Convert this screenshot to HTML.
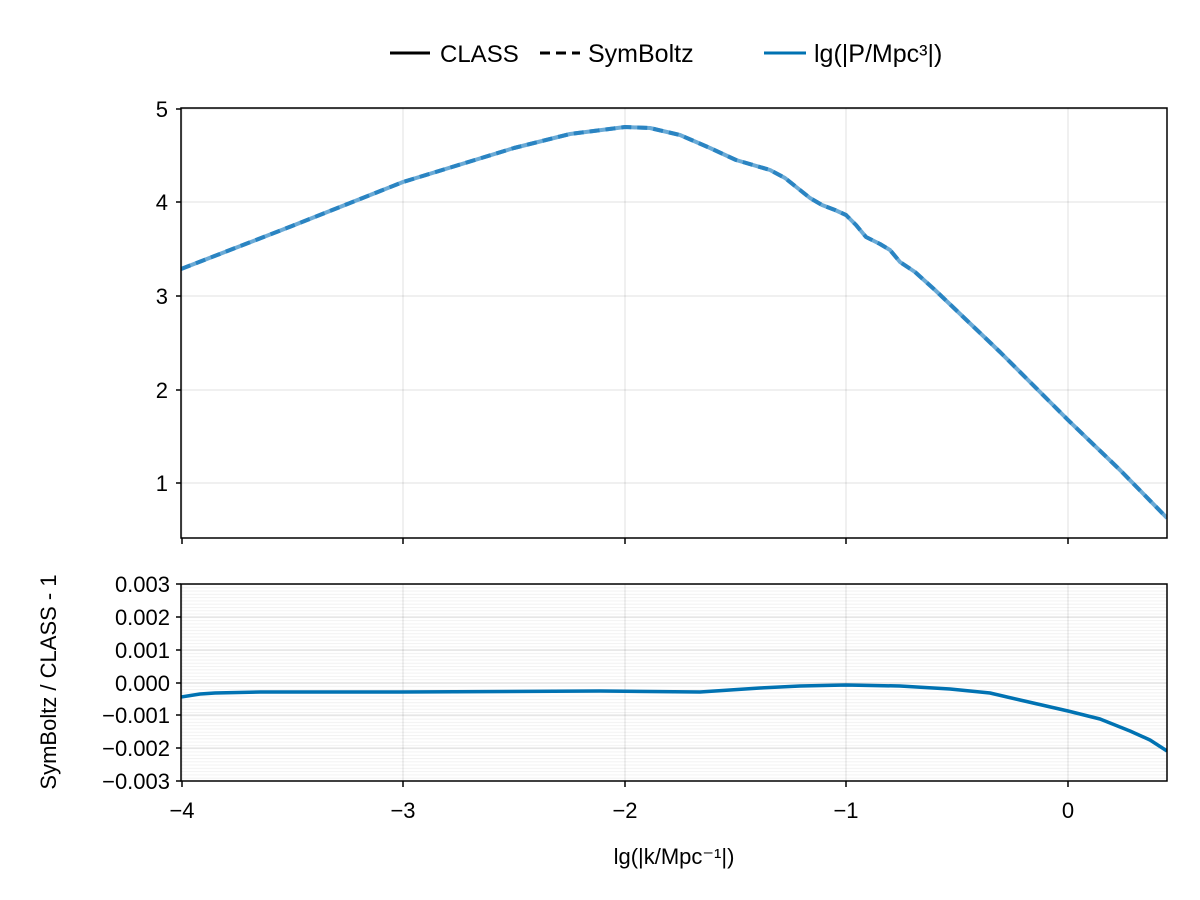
<!DOCTYPE html>
<html><head><style>body{margin:0;background:#fff}svg{display:block}text{font-family:"Liberation Sans",sans-serif;fill:#000}</style></head>
<body>
<svg width="1200" height="900" viewBox="0 0 1200 900">
<defs>
<pattern id="mg" x="0" y="584" width="10" height="3.283" patternUnits="userSpaceOnUse">
<line x1="0" y1="0.5" x2="10" y2="0.5" stroke="#000" stroke-opacity="0.05" stroke-width="1"/>
</pattern>
<clipPath id="c1"><rect x="181" y="108" width="986" height="430"/></clipPath>
<clipPath id="c2"><rect x="181" y="584" width="986" height="197"/></clipPath>
</defs>
<!-- legend -->
<line x1="390" y1="53" x2="430" y2="53" stroke="#000" stroke-width="3"/>
<text x="440" y="62" font-size="24">CLASS</text>
<line x1="540" y1="53" x2="580" y2="53" stroke="#000" stroke-width="3" stroke-dasharray="10,6"/>
<text x="588" y="62" font-size="25">SymBoltz</text>
<line x1="764" y1="53" x2="806" y2="53" stroke="#0072b2" stroke-width="3"/>
<text x="814" y="62" font-size="25">lg(|P/Mpc³|)</text>
<!-- top grid -->
<g stroke="#000" stroke-opacity="0.12" stroke-width="1">
<line x1="182" y1="108" x2="182" y2="538"/><line x1="403" y1="108" x2="403" y2="538"/><line x1="625" y1="108" x2="625" y2="538"/><line x1="846" y1="108" x2="846" y2="538"/><line x1="1068" y1="108" x2="1068" y2="538"/>
<line x1="181" y1="109" x2="1167" y2="109"/><line x1="181" y1="202" x2="1167" y2="202"/><line x1="181" y1="296" x2="1167" y2="296"/><line x1="181" y1="390" x2="1167" y2="390"/><line x1="181" y1="483" x2="1167" y2="483"/>
</g>
<g clip-path="url(#c1)" fill="none" stroke-linejoin="round" stroke-width="4">
<polyline stroke="#6aaad6" points="181,269 292,226 403,182 514,148 570,134 625,127 650,128 680,135 710,148 736,160 770,170 785,178 800,190 810,198 822,205 835,210 846,215 856,225 866,237 880,244 890,250 900,262 915,272 935,290 1000,352 1068,420 1120,470 1167,518"/>
<polyline stroke="#2a84c2" stroke-dasharray="10,6" points="181,269 292,226 403,182 514,148 570,134 625,127 650,128 680,135 710,148 736,160 770,170 785,178 800,190 810,198 822,205 835,210 846,215 856,225 866,237 880,244 890,250 900,262 915,272 935,290 1000,352 1068,420 1120,470 1167,518"/>
</g>
<rect x="181" y="108" width="986" height="430" fill="none" stroke="#000" stroke-width="1.5"/>
<g stroke="#000" stroke-width="1.5">
<line x1="176" y1="109" x2="181" y2="109"/><line x1="176" y1="202" x2="181" y2="202"/><line x1="176" y1="296" x2="181" y2="296"/><line x1="176" y1="390" x2="181" y2="390"/><line x1="176" y1="483" x2="181" y2="483"/>
<line x1="182" y1="538" x2="182" y2="544"/><line x1="403" y1="538" x2="403" y2="544"/><line x1="625" y1="538" x2="625" y2="544"/><line x1="846" y1="538" x2="846" y2="544"/><line x1="1068" y1="538" x2="1068" y2="544"/>
</g>
<g font-size="22" text-anchor="end">
<text x="168" y="117">5</text><text x="168" y="210">4</text><text x="168" y="304">3</text><text x="168" y="398">2</text><text x="168" y="491">1</text>
</g>
<!-- bottom -->
<rect x="181" y="584" width="986" height="197" fill="url(#mg)"/>
<g stroke="#000" stroke-opacity="0.12" stroke-width="1">
<line x1="182" y1="584" x2="182" y2="781"/><line x1="403" y1="584" x2="403" y2="781"/><line x1="625" y1="584" x2="625" y2="781"/><line x1="846" y1="584" x2="846" y2="781"/><line x1="1068" y1="584" x2="1068" y2="781"/>
<line x1="181" y1="617" x2="1167" y2="617"/><line x1="181" y1="650" x2="1167" y2="650"/><line x1="181" y1="683" x2="1167" y2="683"/><line x1="181" y1="715" x2="1167" y2="715"/><line x1="181" y1="748" x2="1167" y2="748"/>
</g>
<g clip-path="url(#c2)"><polyline fill="none" stroke="#0072b2" stroke-width="3.5" stroke-linejoin="round" points="181,697 200,694 215,693 260,692 400,692 600,691 700,692 760,688 800,686 846,685 900,686 950,689 990,693 1020,700 1068,711 1100,719 1130,731 1150,740 1167,751"/></g>
<rect x="181" y="584" width="986" height="197" fill="none" stroke="#000" stroke-width="1.5"/>
<g stroke="#000" stroke-width="1.5">
<line x1="176" y1="584" x2="181" y2="584"/><line x1="176" y1="617" x2="181" y2="617"/><line x1="176" y1="650" x2="181" y2="650"/><line x1="176" y1="683" x2="181" y2="683"/><line x1="176" y1="715" x2="181" y2="715"/><line x1="176" y1="748" x2="181" y2="748"/><line x1="176" y1="781" x2="181" y2="781"/>
<line x1="182" y1="781" x2="182" y2="787"/><line x1="403" y1="781" x2="403" y2="787"/><line x1="625" y1="781" x2="625" y2="787"/><line x1="846" y1="781" x2="846" y2="787"/><line x1="1068" y1="781" x2="1068" y2="787"/>
</g>
<g font-size="22" text-anchor="end">
<text x="170" y="592">0.003</text><text x="170" y="625">0.002</text><text x="170" y="658">0.001</text><text x="170" y="691">0.000</text><text x="170" y="723">−0.001</text><text x="170" y="756">−0.002</text><text x="170" y="789">−0.003</text>
</g>
<g font-size="22" text-anchor="middle">
<text x="182" y="818">−4</text><text x="403" y="818">−3</text><text x="625" y="818">−2</text><text x="846" y="818">−1</text><text x="1068" y="818">0</text>
<text x="674" y="864">lg(|k/Mpc⁻¹|)</text>
<text transform="translate(56,682) rotate(-90)">SymBoltz / CLASS - 1</text>
</g>
</svg>
</body></html>
